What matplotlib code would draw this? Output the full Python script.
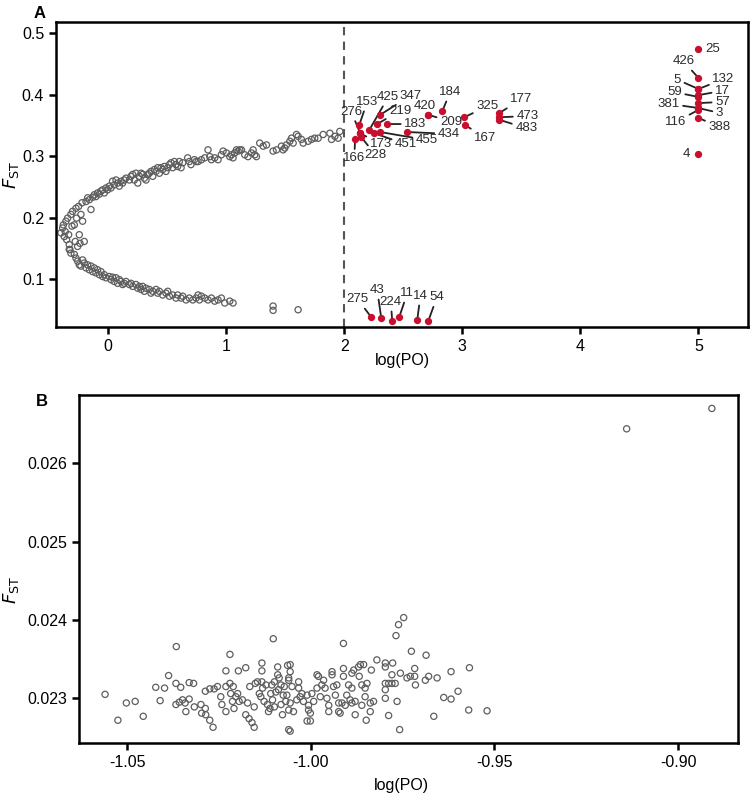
import numpy as np
import matplotlib
matplotlib.use('Agg')
import matplotlib.pyplot as plt
from matplotlib.ticker import FormatStrFormatter

plt.rcParams['font.family'] = ['Liberation Sans', 'DejaVu Sans']
plt.rcParams['axes.unicode_minus'] = False
plt.rcParams['xtick.direction'] = 'out'
plt.rcParams['ytick.direction'] = 'out'

# ---------------- panel A data ----------------
# upper arm of the neutral cloud
a_up_x = [-0.398, -0.384, -0.378, -0.370, -0.362, -0.356, -0.342, -0.350, -0.333, -0.328,
          -0.322, -0.314, -0.305, -0.300, -0.285, -0.277, -0.271, -0.266, -0.257, -0.249,
          -0.243, -0.237, -0.229, -0.220, -0.215, -0.201, -0.186, -0.172, -0.158, -0.144,
          -0.130, -0.116, -0.102, -0.088, -0.073, -0.059, -0.045, -0.031, -0.017, -0.003,
          0.011, 0.025, 0.039, 0.053, 0.068, 0.082, 0.096, 0.110, 0.124, 0.138,
          0.152, 0.181, 0.195, 0.209, 0.223, 0.237, 0.252, 0.266, 0.280, 0.294,
          0.308, 0.322, 0.336, 0.350, 0.364, 0.379, 0.393, 0.407, 0.421, 0.435,
          0.449, 0.463, 0.477, 0.491, 0.506, 0.520, 0.534, 0.548, 0.562, 0.576,
          0.590, 0.604, 0.619, 0.633, 0.675, 0.689, 0.703, 0.732, 0.746,
          0.763, 0.791, 0.819, 0.847, 0.862, 0.876, 0.904, 0.932, 0.960, 0.975,
          1.003, 1.031, 1.045, 1.059, 1.073, 1.088, 1.102, 1.116, 1.130, 1.158,
          1.186, 1.215, 1.229, 1.243, 1.257, 1.285, 1.314, 1.342, 1.398, 1.427,
          1.469, 1.483, 1.497, 1.511, 1.540, 1.554, 1.568, 1.596, 1.610, 1.638,
          1.653, 1.695, 1.723, 1.751, 1.780, 1.822, 1.879, 1.893, 1.921, 1.949, 1.963]
a_up_y = [0.175, 0.183, 0.188, 0.169, 0.177, 0.194, 0.199, 0.164, 0.172, 0.156,
          0.148, 0.205, 0.186, 0.210, 0.188, 0.161, 0.215, 0.199, 0.153, 0.218,
          0.172, 0.158, 0.205, 0.224, 0.194, 0.161, 0.226, 0.232, 0.229, 0.213,
          0.233, 0.237, 0.234, 0.240, 0.238, 0.243, 0.245, 0.240, 0.248, 0.245,
          0.251, 0.248, 0.259, 0.253, 0.261, 0.256, 0.251, 0.259, 0.256, 0.261,
          0.264, 0.261, 0.267, 0.270, 0.261, 0.272, 0.256, 0.267, 0.272, 0.270,
          0.264, 0.261, 0.270, 0.272, 0.275, 0.267, 0.278, 0.275, 0.281, 0.272,
          0.281, 0.278, 0.283, 0.275, 0.281, 0.286, 0.289, 0.281, 0.291, 0.286,
          0.283, 0.291, 0.281, 0.289, 0.297, 0.291, 0.286, 0.294, 0.291,
          0.291, 0.294, 0.297, 0.310, 0.299, 0.294, 0.297, 0.294, 0.302, 0.308,
          0.305, 0.299, 0.302, 0.297, 0.305, 0.310, 0.308, 0.310, 0.310, 0.302,
          0.299, 0.305, 0.310, 0.302, 0.299, 0.321, 0.316, 0.318, 0.308, 0.310,
          0.316, 0.310, 0.313, 0.318, 0.324, 0.329, 0.321, 0.335, 0.332, 0.327,
          0.321, 0.324, 0.327, 0.329, 0.329, 0.335, 0.337, 0.327, 0.332, 0.329, 0.340]

# lower arm of the neutral cloud
a_lo_x = [-0.328, -0.314, -0.285, -0.271, -0.257, -0.243, -0.229, -0.215, -0.201, -0.186,
          -0.172, -0.158, -0.144, -0.130, -0.116, -0.102, -0.088, -0.073, -0.059, -0.045,
          -0.031, -0.017, 0.011, 0.025, 0.039, 0.053, 0.068, 0.082, 0.096, 0.110,
          0.124, 0.138, 0.152, 0.181, 0.195, 0.209, 0.237, 0.252, 0.266, 0.280,
          0.294, 0.308, 0.322, 0.350, 0.364, 0.379, 0.407, 0.421, 0.435, 0.463,
          0.491, 0.506, 0.520, 0.548, 0.576, 0.590, 0.619, 0.633, 0.661, 0.689,
          0.718, 0.746, 0.774, 0.763, 0.791, 0.819, 0.847, 0.876, 0.904, 0.932,
          0.960, 0.989, 1.031, 1.059, 1.398, 1.398, 1.610]
a_lo_y = [0.148, 0.142, 0.140, 0.134, 0.129, 0.123, 0.121, 0.131, 0.126, 0.118,
          0.123, 0.115, 0.121, 0.112, 0.118, 0.110, 0.115, 0.107, 0.112, 0.104,
          0.107, 0.102, 0.104, 0.099, 0.103, 0.096, 0.102, 0.093, 0.099, 0.096,
          0.091, 0.093, 0.096, 0.091, 0.093, 0.088, 0.091, 0.085, 0.088, 0.083,
          0.088, 0.080, 0.085, 0.083, 0.077, 0.080, 0.083, 0.077, 0.080, 0.074,
          0.077, 0.080, 0.072, 0.074, 0.069, 0.074, 0.069, 0.072, 0.066, 0.069,
          0.066, 0.069, 0.066, 0.074, 0.072, 0.069, 0.066, 0.069, 0.064, 0.066,
          0.069, 0.061, 0.064, 0.061, 0.056, 0.049, 0.050]

# outlier loci: label, point x, point y, label x, label y
out_lbl = ['276', '153', '425', '347', '219', '183', '451', '455', '434', '420', '209',
           '184', '173', '228', '166', '325', '167', '177', '473', '483',
           '275', '43', '224', '11', '14', '54',
           '426', '5', '132', '59', '17', '381', '57', '3', '116', '388']
out_x = [2.136, 2.127, 2.212, 2.305, 2.280, 2.364, 2.254, 2.305, 2.534, 2.712, 2.712,
         2.831, 2.136, 2.144, 2.093, 3.017, 3.025, 3.314, 3.314, 3.314,
         2.229, 2.314, 2.407, 2.466, 2.619, 2.712,
         5.0, 5.0, 5.0, 5.0, 5.0, 5.0, 5.0, 5.0, 5.0, 5.0]
out_y = [0.337, 0.350, 0.342, 0.367, 0.352, 0.352, 0.337, 0.339, 0.339, 0.367, 0.367,
         0.373, 0.337, 0.331, 0.328, 0.363, 0.350, 0.370, 0.363, 0.359,
         0.038, 0.0366, 0.0317, 0.038, 0.0333, 0.0317,
         0.427, 0.409, 0.409, 0.396, 0.399, 0.378, 0.386, 0.378, 0.375, 0.362]
lbl_x = [2.060, 2.195, 2.373, 2.560, 2.475, 2.602, 2.525, 2.700, 2.885, 2.686, 2.905,
         2.898, 2.310, 2.263, 2.085, 3.212, 3.195, 3.500, 3.551, 3.542,
         2.115, 2.280, 2.395, 2.535, 2.645, 2.785,
         4.873, 4.822, 5.212, 4.797, 5.203, 4.746, 5.203, 5.178, 4.805, 5.178]
lbl_y = [0.372, 0.388, 0.396, 0.398, 0.374, 0.352, 0.319, 0.326, 0.336, 0.382, 0.356,
         0.404, 0.319, 0.302, 0.296, 0.381, 0.330, 0.392, 0.365, 0.345,
         0.067, 0.082, 0.0626, 0.0770, 0.0724, 0.070,
         0.454, 0.424, 0.425, 0.404, 0.406, 0.385, 0.388, 0.370, 0.355, 0.347]
# loci labelled directly beside the point
side_lbl = ['25', '4']
side_x = [5.0, 5.0]
side_y = [0.474, 0.303]

# ---------------- panel B data ----------------
b_x = [-1.0560, -1.0525, -1.0502, -1.0478, -1.0456, -1.0422, -1.0410, -1.0398, -1.0387, -1.0366,
       -1.0367, -1.0354, -1.0367, -1.0358, -1.0349, -1.0342, -1.0340, -1.0331, -1.0331, -1.0319,
       -1.0317, -1.0299, -1.0297, -1.0287, -1.0286, -1.0287, -1.0275, -1.0275, -1.0266, -1.0263,
       -1.0254, -1.0245, -1.0242, -1.0231, -1.0231, -1.0231, -1.0220, -1.0220, -1.0218, -1.0213,
       -1.0211, -1.0209, -1.0204, -1.0199, -1.0197, -1.0195, -1.0186, -1.0177, -1.0177, -1.0172,
       -1.0168, -1.0166, -1.0160, -1.0154, -1.0154, -1.0151, -1.0145, -1.0140, -1.0136, -1.0133,
       -1.0133, -1.0133, -1.0131, -1.0127, -1.0122, -1.0118, -1.0115, -1.0111, -1.0109, -1.0106,
       -1.0104, -1.0102, -1.0099, -1.0099, -1.0095, -1.0090, -1.0090, -1.0088, -1.0086, -1.0081,
       -1.0081, -1.0077, -1.0075, -1.0072, -1.0068, -1.0063, -1.0060, -1.0060,
       -1.0056, -1.0056, -1.0060, -1.0051, -1.0065, -1.0056, -1.0060, -1.0047, -1.0056, -1.0033,
       -1.0033, -1.0029, -1.0038, -1.0024, -1.0020, -1.0010, -1.0006, -1.0006, -1.0001, -1.0010,
       -1.0001, -0.9997, -0.9992, -0.9983, -0.9979, -0.9983, -0.9974, -0.9970, -0.9965, -0.9961,
       -0.9956, -0.9951, -0.9951, -0.9942, -0.9942, -0.9938, -0.9933, -0.9929, -0.9924, -0.9924,
       -0.9920, -0.9915, -0.9911, -0.9911, -0.9911, -0.9906, -0.9902, -0.9897, -0.9893, -0.9888,
       -0.9888, -0.9888, -0.9883, -0.9879, -0.9879, -0.9870, -0.9865, -0.9868, -0.9861, -0.9861,
       -0.9856, -0.9852, -0.9852, -0.9849, -0.9847, -0.9838, -0.9838, -0.9835, -0.9829, -0.9820,
       -0.9797, -0.9797, -0.9797, -0.9797, -0.9797, -0.9788, -0.9788, -0.9777, -0.9779, -0.9779,
       -0.9770, -0.9768, -0.9765, -0.9761, -0.9756, -0.9747, -0.9758, -0.9738, -0.9729, -0.9726,
       -0.9717, -0.9717, -0.9715, -0.9688, -0.9686, -0.9679, -0.9665, -0.9656, -0.9638, -0.9618,
       -0.9618, -0.9599, -0.9568, -0.9570, -0.9520, -0.9140, -0.8908]
b_y = [0.02305, 0.02272, 0.02294, 0.02296, 0.02277, 0.02314, 0.02297, 0.02313, 0.02329, 0.02366,
       0.02319, 0.02314, 0.02292, 0.02295, 0.02298, 0.02294, 0.02283, 0.02299, 0.02320, 0.02319,
       0.02289, 0.02292, 0.02281, 0.02287, 0.02279, 0.02309, 0.02312, 0.02272, 0.02263, 0.02312,
       0.02315, 0.02302, 0.02292, 0.02315, 0.02335, 0.02283, 0.02356, 0.02319, 0.02306, 0.02296,
       0.02315, 0.02287, 0.02302, 0.02306, 0.02335, 0.02296, 0.02298, 0.02339, 0.02279, 0.02294,
       0.02274, 0.02315, 0.02269, 0.02289, 0.02263, 0.02319, 0.02321, 0.02306, 0.02302, 0.02345,
       0.02335, 0.02321, 0.02313, 0.02296, 0.02317, 0.02292, 0.02283, 0.02287, 0.02306, 0.02317,
       0.02298, 0.02376, 0.02321, 0.02289, 0.02308, 0.02340, 0.02330, 0.02311, 0.02326, 0.02292,
       0.02317, 0.02279, 0.02304, 0.02315, 0.02296, 0.02342, 0.02326, 0.02260,
       0.02343, 0.02334, 0.02323, 0.02315, 0.02304, 0.02294, 0.02285, 0.02283, 0.02258, 0.02321,
       0.02313, 0.02302, 0.02298, 0.02306, 0.02296, 0.02304, 0.02291, 0.02285, 0.02281, 0.02271,
       0.02271, 0.02306, 0.02296, 0.02330, 0.02328, 0.02313, 0.02302, 0.02317, 0.02323, 0.02313,
       0.02300, 0.02291, 0.02283, 0.02334, 0.02330, 0.02315, 0.02304, 0.02317, 0.02294, 0.02283,
       0.02281, 0.02294, 0.02370, 0.02338, 0.02328, 0.02291, 0.02304, 0.02317, 0.02298, 0.02294,
       0.02332, 0.02313, 0.02336, 0.02296, 0.02279, 0.02340, 0.02343, 0.02328, 0.02291, 0.02317,
       0.02343, 0.02313, 0.02302, 0.02272, 0.02319, 0.02294, 0.02283, 0.02336, 0.02296, 0.02349,
       0.02345, 0.02340, 0.02319, 0.02311, 0.02300, 0.02319, 0.02278, 0.02345, 0.02330, 0.02319,
       0.02319, 0.02380, 0.02296, 0.02394, 0.02332, 0.02403, 0.02260, 0.02326, 0.02328, 0.02360,
       0.02338, 0.02328, 0.02317, 0.02323, 0.02355, 0.02328, 0.02277, 0.02326, 0.02301, 0.02334,
       0.02299, 0.02309, 0.02339, 0.02285, 0.02284, 0.02644, 0.02670]

grey = '#5e5e5e'
red = '#c8102e'
txt = '#2b2b2b'

fig = plt.figure(figsize=(7.55, 8.01), dpi=100)
ax_a = fig.add_axes([0.0742, 0.5918, 0.9166, 0.3808])
ax_b = fig.add_axes([0.1046, 0.0724, 0.8728, 0.4345])

for ax in (ax_a, ax_b):
    for sp in ax.spines.values():
        sp.set_linewidth(1.8)
    ax.tick_params(width=1.8, length=5, labelsize=11.5, top=False, right=False)

# panel A
ax_a.scatter(a_up_x, a_up_y, s=20, facecolors='none', edgecolors=grey, linewidths=0.9, zorder=2)
ax_a.scatter(a_lo_x, a_lo_y, s=20, facecolors='none', edgecolors=grey, linewidths=0.9, zorder=2)
ax_a.axvline(2, color='#555555', lw=1.5, ls=(0, (4, 3)), zorder=1)
for l, x, y, tx, ty in zip(out_lbl, out_x, out_y, lbl_x, lbl_y):
    ax_a.annotate(l, xy=(x, y), xytext=(tx, ty), fontsize=9.5, color=txt,
                  ha='center', va='center',
                  arrowprops=dict(arrowstyle='-', color='#222222', lw=1.3,
                                  shrinkA=0.5, shrinkB=1))
ax_a.scatter(out_x, out_y, s=18, color=red, zorder=4)
ax_a.scatter(side_x, side_y, s=18, color=red, zorder=4)
ax_a.text(side_x[0] + 0.06, side_y[0], side_lbl[0], fontsize=9.5, color=txt, va='center', ha='left')
ax_a.text(side_x[1] - 0.07, side_y[1], side_lbl[1], fontsize=9.5, color=txt, va='center', ha='right')

ax_a.set_xlim(-0.44, 5.42)
ax_a.set_ylim(0.022, 0.518)
ax_a.set_xticks([0, 1, 2, 3, 4, 5])
ax_a.set_yticks([0.1, 0.2, 0.3, 0.4, 0.5])
ax_a.yaxis.set_major_formatter(FormatStrFormatter('%.1f'))
ax_a.set_xlabel('log(PO)', fontsize=11.5)
ax_a.xaxis.set_label_coords(0.5, -0.085)
ax_a.set_ylabel(r'$F_{\mathrm{ST}}$', fontsize=13)
ax_a.yaxis.set_label_coords(-0.050, 0.5)
fig.text(0.045, 0.992, 'A', fontsize=12, fontweight='bold', va='top')

# panel B
ax_b.scatter(b_x, b_y, s=20, facecolors='none', edgecolors=grey, linewidths=0.9)
ax_b.set_xlim(-1.0631, -0.8837)
ax_b.set_ylim(0.022429, 0.026872)
ax_b.set_xticks([-1.05, -1.00, -0.95, -0.90])
ax_b.set_yticks([0.023, 0.024, 0.025, 0.026])
ax_b.xaxis.set_major_formatter(FormatStrFormatter('%.2f'))
ax_b.yaxis.set_major_formatter(FormatStrFormatter('%.3f'))
ax_b.set_xlabel('log(PO)', fontsize=11.5)
ax_b.xaxis.set_label_coords(0.49, -0.1)
ax_b.set_ylabel(r'$F_{\mathrm{ST}}$', fontsize=13)
ax_b.yaxis.set_label_coords(-0.088, 0.44)
fig.text(0.048, 0.508, 'B', fontsize=12, fontweight='bold', va='top')

fig.savefig('out.png', dpi=100)
